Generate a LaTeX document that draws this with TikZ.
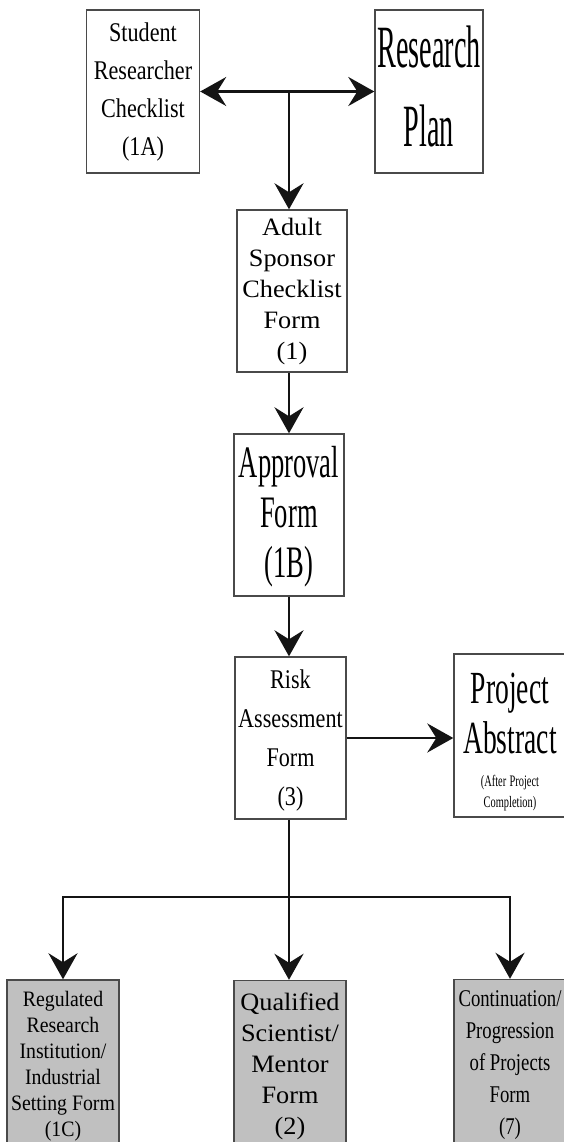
\documentclass[tikz,border=0pt]{standalone}
\usepackage{fontspec}
\setmainfont{Liberation Serif}
\newfontfamily\fA[FakeStretch=0.82]{Liberation Serif}
\newfontfamily\fRP[FakeStretch=0.47]{Liberation Serif}
\newfontfamily\fAP[FakeStretch=0.59]{Liberation Serif}
\newfontfamily\fPA[FakeStretch=0.6]{Liberation Serif}
\newfontfamily\fSm[FakeStretch=0.65]{Liberation Serif}
\newfontfamily\fW[FakeStretch=1.05]{Liberation Serif}
\newfontfamily\fL[FakeStretch=0.9]{Liberation Serif}
\newfontfamily\fR[FakeStretch=0.78]{Liberation Serif}
\usetikzlibrary{arrows.meta}
\definecolor{boxline}{HTML}{4A4A4A}
\definecolor{boxgray}{HTML}{C0C0C0}
\tikzset{
  myhead/.tip={Stealth[length=26pt,width=29pt,inset=9pt]},
  box/.style={draw=boxline, line width=1.4pt, fill=white, inner sep=0pt, align=center, text=black},
  graybox/.style={box, fill=boxgray},
  lastline/.style={text height=#1, text depth=0pt},
  firstline/.style={text height=0pt, text depth=#1},
  conn/.style={line width=2.7pt, draw=black!92},
  arr/.style={conn, -myhead},
}
\begin{document}
\begin{tikzpicture}[x=1pt,y=-1pt]
\useasboundingbox (0,0) rectangle (564,1142);
% top row
\node[box, minimum width=113pt, minimum height=163pt, lastline=129pt,
      font={\fA\fontsize{27}{38}\selectfont}] (sr) at (143,91.5)
      {Student\\Researcher\\Checklist\\(1A)};
\node[box, minimum width=108pt, minimum height=163pt, lastline=111pt,
      font={\fRP\fontsize{60}{79}\selectfont}] (rp) at (429,91.5)
      {Research\\Plan};
% middle column
\node[box, minimum width=110pt, minimum height=162pt, lastline=136pt,
      font={\fW\fontsize{25}{31}\selectfont}] (as) at (292,291)
      {Adult\\Sponsor\\Checklist\\Form\\(1)};
\node[box, minimum width=110pt, minimum height=162pt, lastline=124pt,
      font={\fAP\fontsize{45}{50}\selectfont}] (ap) at (289,515)
      {Approval\\Form\\(1B)};
\node[box, minimum width=111pt, minimum height=162pt, lastline=134pt,
      font={\fA\fontsize{27}{39}\selectfont}] (rk) at (290.5,738)
      {Risk\\Assessment\\Form\\(3)};
\node[box, minimum width=112pt, minimum height=163pt, text width=108pt, firstline=65pt] (pa) at (510,735.5)
      {{\fPA\fontsize{46}{50}\selectfont Project\\Abstract\par}\vskip 12pt%
       {\fSm\fontsize{16}{21}\selectfont (After Project\\Completion)\par}};
% bottom row
\node[graybox, minimum width=112pt, minimum height=170pt, lastline=142pt,
      font={\fL\fontsize{22}{26}\selectfont}] (rr) at (63,1065)
      {Regulated\\Research\\Institution/\\Industrial\\Setting Form\\(1C)};
\node[graybox, minimum width=112pt, minimum height=170pt, lastline=137pt,
      font={\fW\fontsize{25}{31}\selectfont}] (qs) at (290,1065.5)
      {Qualified\\Scientist/\\Mentor\\Form\\(2)};
\node[graybox, minimum width=112pt, minimum height=170pt, lastline=139pt,
      font={\fR\fontsize{24}{32}\selectfont}] (cp) at (510,1064.5)
      {Continuation/\\Progression\\of Projects\\Form\\(7)};
% connectors
\coordinate (t) at (289,91.5);
\coordinate (br) at (289,897);
\draw[conn, myhead-myhead] (sr.east) -- (rp.west);
\draw[arr] (t) -- (t |- as.north);
\draw[arr] (t |- as.south) -- (t |- ap.north);
\draw[arr] (t |- ap.south) -- (t |- rk.north);
\draw[arr] (rk.east) -- (rk.east -| pa.west);
\draw[conn] (t |- rk.south) -- (br);
\draw[arr] (br) -| (rr.north);
\draw[arr] (br) -| (cp.north);
\draw[arr] (br) -- (br |- qs.north);
\end{tikzpicture}
\end{document}
